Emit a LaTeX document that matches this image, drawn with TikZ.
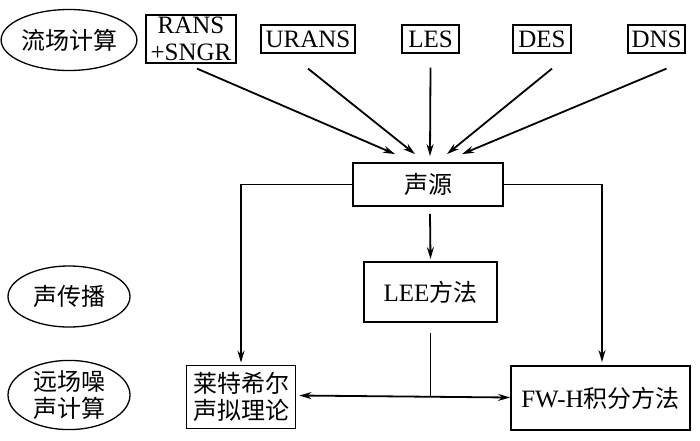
\documentclass[tikz,border=0pt]{standalone}
\usepackage{fontspec}
\setmainfont{Liberation Serif}
\newfontfamily\cjk{Noto Sans CJK SC}
\usetikzlibrary{arrows.meta,shapes.geometric}
\begin{document}
\begin{tikzpicture}[x=1pt,y=-1pt,
 box/.style={draw,line width=1.2pt,inner sep=0pt,font=\fontsize{25}{27}\selectfont,align=center},
 cbox/.style={box,font=\fontsize{24}{27}\selectfont\cjk},
 mbox/.style={line width=1.8pt},
 ell/.style={draw,ellipse,line width=1.3pt,inner sep=0pt,minimum width=122pt,minimum height=61pt,font=\fontsize{24}{27}\selectfont\cjk,align=center},
 arr/.style={line width=1.8pt,-{Stealth[length=12pt,width=7pt]}},
 darr/.style={line width=1.8pt,{Stealth[length=12pt,width=7pt]}-{Stealth[length=12pt,width=7pt]}},
 ln/.style={line width=1.8pt}]
\useasboundingbox (0,0) rectangle (700,440);
\fill[white] (0,0) rectangle (700,440);
% row labels
\node[ell] (e1) at (69,40) {流场计算};
\node[ell] (e2) at (69,296.5) {声传播};
\node[ell,minimum height=64pt] (e3) at (69,395) {远场噪\\声计算};
% top boxes
\node[box,minimum width=90pt,minimum height=48pt] (rans) at (191,39) {RANS\\+SNGR};
\node[box,minimum width=94pt,minimum height=28pt] (urans) at (308,39) {URANS};
\node[box,minimum width=57pt,minimum height=28pt] (les) at (430.5,39) {LES};
\node[box,minimum width=58pt,minimum height=28pt] (des) at (542,39) {DES};
\node[box,minimum width=57pt,minimum height=28pt] (dns) at (656.5,39) {DNS};
% middle
\node[cbox,mbox,minimum width=150pt,minimum height=43pt] (src) at (428,184.5) {声源};
\node[box,mbox,minimum width=133pt,minimum height=60pt] (lee) at (430.5,292) {LEE{\cjk\fontsize{24}{27}\selectfont 方法}};
\node[cbox,mbox,minimum width=109pt,minimum height=63pt] (lh) at (241,397) {莱特希尔\\声拟理论};
\node[box,mbox,minimum width=179pt,minimum height=64pt] (fw) at (600.5,398) {FW-H{\cjk\fontsize{24}{27}\selectfont 积分方法}};
% arrows into source
\draw[arr] ([xshift=6pt,yshift=-5pt]rans.south) -- ([xshift=-33pt,yshift=8pt]src.north);
\draw[arr] ([yshift=-15pt]urans.south) -- ([xshift=-13pt,yshift=8pt]src.north);
\draw[arr] ([yshift=-14pt]les.south) -- ([xshift=2pt,yshift=6pt]src.north);
\draw[arr] ([xshift=10pt,yshift=-15pt]des.south) -- ([xshift=19pt,yshift=8pt]src.north);
\draw[arr] ([xshift=10pt,yshift=-15pt]dns.south) -- ([xshift=34pt,yshift=8pt]src.north);
% from source
\draw[arr] (src.west) -| ([yshift=2pt]lh.north);
\draw[arr] (src.east) -| ([xshift=1.5pt,yshift=3pt]fw.north);
\draw[arr] ([xshift=2pt,yshift=-7pt]src.south) -- ([yshift=2pt]lee.north);
\coordinate (j) at (lee.south |- lh.east);
\draw[ln] ([yshift=-10pt]lee.south) -- ([yshift=1.5pt]j);
\draw[darr] ([xshift=3pt,yshift=1.5pt]lh.east) -- ([yshift=0.5pt]fw.west);
\end{tikzpicture}
\end{document}
